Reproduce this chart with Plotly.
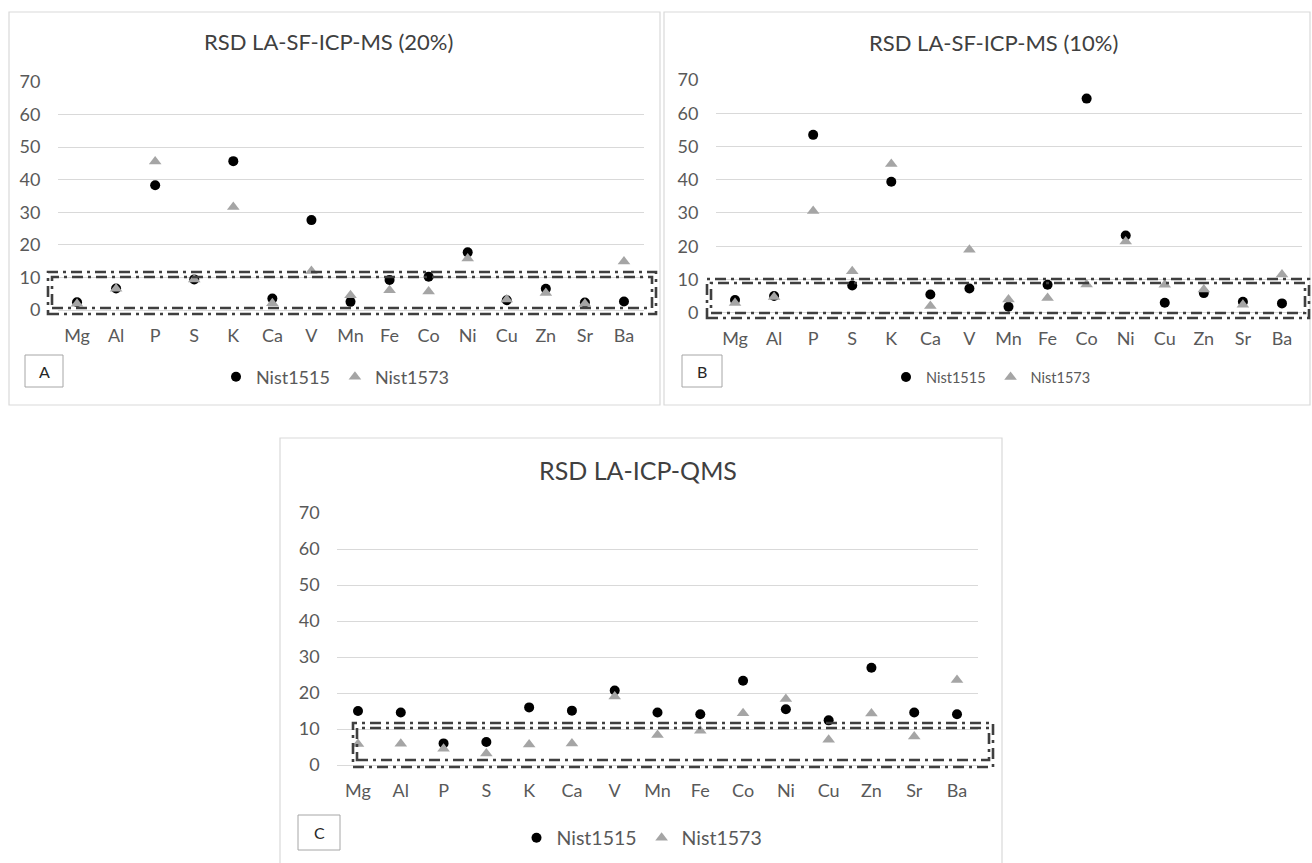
import plotly.graph_objects as go

# ---------------- data ----------------
categories = ["Mg", "Al", "P", "S", "K", "Ca", "V", "Mn", "Fe", "Co", "Ni", "Cu", "Zn", "Sr", "Ba"]
series_names = ["Nist1515", "Nist1573"]
y_ticks = [0, 10, 20, 30, 40, 50, 60, 70]

a_nist1515 = [2.4, 6.6, 38.3, 9.4, 45.7, 3.5, 27.6, 2.5, 9.2, 10.2, 17.7, 3.0, 6.5, 2.3, 2.6]
a_nist1573 = [1.9, 6.5, 45.6, 9.4, 31.6, 2.1, 12.0, 4.5, 6.1, 5.7, 15.8, 3.2, 5.2, 1.9, 14.9]

b_nist1515 = [3.8, 5.0, 53.5, 8.2, 39.4, 5.5, 7.3, 1.8, 8.4, 64.4, 23.2, 3.0, 5.9, 3.3, 2.8]
b_nist1573 = [2.9, 4.7, 30.6, 12.5, 44.7, 2.0, 18.9, 4.0, 4.4, 8.5, 21.4, 8.4, 7.0, 2.4, 11.5]

c_nist1515 = [15.0, 14.6, 6.0, 6.4, 16.0, 15.1, 20.7, 14.6, 14.1, 23.4, 15.5, 12.4, 27.0, 14.6, 14.1]
c_nist1573 = [5.8, 5.9, 4.5, 3.2, 5.7, 6.0, 19.0, 8.3, 9.5, 14.4, 18.3, 7.0, 14.3, 7.9, 23.6]

panel_titles = ["RSD LA-SF-ICP-MS (20%)", "RSD LA-SF-ICP-MS (10%)", "RSD LA-ICP-QMS"]
panel_letters = ["A", "B", "C"]

# ---------------- layout helpers ----------------
W, H = 1312, 863
FONT = "Lato, Calibri, 'Noto Sans', sans-serif"


def fx(x):
    return x / W


def fy(y):
    return 1 - y / H


# pixel geometry of each panel (screen coordinates)
panels = [
    dict(data=(a_nist1515, a_nist1573), plot_x=(57.5, 643.5), y0=310, y70=82,
         border=(9, 12, 660, 405), title_xy=(328, 41), title_size=22,
         legend_xy=(335, 377), legend_size=18, letter_box=(25, 355, 63, 387),
         box_outer=(48, 272, 656, 314), box_inner=(52, 277, 652, 308)),
    dict(data=(b_nist1515, b_nist1573), plot_x=(715.5, 1301.5), y0=312.7, y70=80,
         border=(664, 12, 1310, 405), title_xy=(993, 42), title_size=22,
         legend_xy=(991, 377), legend_size=14.5, letter_box=(682, 355, 722, 387),
         box_outer=(707, 279, 1309, 318), box_inner=(711, 283, 1305, 313)),
    dict(data=(c_nist1515, c_nist1573), plot_x=(336.6, 978.4), y0=765, y70=513,
         border=(280, 438, 1002, 875), title_xy=(638, 470), title_size=25,
         legend_xy=(642, 838), legend_size=19.5, letter_box=(298, 815, 340, 850),
         box_outer=(353, 723, 993, 767), box_inner=(357, 728, 989, 760)),
]

fig = go.Figure()
shapes = []
annotations = []
layout_axes = {}

for i, p in enumerate(panels):
    n = i + 1
    xa = "x" if n == 1 else f"x{n}"
    ya = "y" if n == 1 else f"y{n}"
    leg = "legend" if n == 1 else f"legend{n}"
    d1515, d1573 = p["data"]

    fig.add_trace(go.Scatter(
        x=categories, y=d1515, mode="markers", name=series_names[0],
        marker=dict(symbol="circle", size=10, color="#000000"),
        xaxis=xa, yaxis=ya, legend=leg, showlegend=True))
    fig.add_trace(go.Scatter(
        x=categories, y=d1573, mode="markers", name=series_names[1],
        marker=dict(symbol="triangle-up", size=11, color="#a5a5a5"),
        xaxis=xa, yaxis=ya, legend=leg, showlegend=True))

    xk = "xaxis" if n == 1 else f"xaxis{n}"
    yk = "yaxis" if n == 1 else f"yaxis{n}"
    layout_axes[xk] = dict(
        domain=[fx(p["plot_x"][0]), fx(p["plot_x"][1])],
        anchor=ya, type="category", categoryorder="array", categoryarray=categories,
        range=[-0.5, 14.5], showgrid=False, zeroline=False, showline=False,
        ticks="", ticklabelstandoff=13, automargin=False,
        tickfont=dict(family=FONT, size=18, color="#595959"), fixedrange=True)
    layout_axes[yk] = dict(
        domain=[fy(p["y0"]), fy(p["y70"])], anchor=xa, range=[0, 70],
        tickvals=y_ticks, showgrid=True, gridcolor="#d9d9d9", gridwidth=1,
        zeroline=True, zerolinecolor="#d9d9d9", zerolinewidth=1, showline=False,
        ticks="", ticklabelstandoff=16, automargin=False,
        tickfont=dict(family=FONT, size=18, color="#595959"), fixedrange=True)

    lx, ly = p["legend_xy"]
    layout_axes[leg] = dict(
        x=fx(lx), y=fy(ly), xanchor="center", yanchor="middle",
        orientation="h", bgcolor="rgba(0,0,0,0)", itemwidth=30,
        font=dict(family=FONT, size=p["legend_size"], color="#595959"))

    # panel border
    bx0, by0, bx1, by1 = p["border"]
    shapes.append(dict(type="rect", xref="paper", yref="paper",
                       x0=fx(bx0), x1=fx(bx1), y0=fy(by1), y1=fy(by0),
                       line=dict(color="#d9d9d9", width=1.2), layer="below"))
    # letter box
    lb = p["letter_box"]
    shapes.append(dict(type="rect", xref="paper", yref="paper",
                       x0=fx(lb[0]), x1=fx(lb[2]), y0=fy(lb[3]), y1=fy(lb[1]),
                       line=dict(color="#a6a6a6", width=1), layer="below"))
    annotations.append(dict(text=panel_letters[i], xref="paper", yref="paper",
                            x=fx((lb[0] + lb[2]) / 2), y=fy((lb[1] + lb[3]) / 2),
                            xanchor="center", yanchor="middle", showarrow=False,
                            font=dict(family=FONT, size=16, color="#262626")))
    # dash-dot highlight boxes around the 0-10 band
    for key in ("box_outer", "box_inner"):
        r = p[key]
        shapes.append(dict(type="rect", xref="paper", yref="paper",
                           x0=fx(r[0]), x1=fx(r[2]), y0=fy(r[3]), y1=fy(r[1]),
                           line=dict(color="#3f3f3f", width=2.6, dash="11px,5px,3px,5px"),
                           layer="above"))
    # title
    tx, ty = p["title_xy"]
    annotations.append(dict(text=panel_titles[i], xref="paper", yref="paper",
                            x=fx(tx), y=fy(ty), xanchor="center", yanchor="middle",
                            showarrow=False,
                            font=dict(family=FONT, size=p["title_size"], color="#404040")))

fig.update_layout(
    width=W, height=H, autosize=False,
    margin=dict(l=0, r=0, t=0, b=0, pad=0, autoexpand=False),
    paper_bgcolor="white", plot_bgcolor="white",
    shapes=shapes, annotations=annotations, **layout_axes)

# pin the figure to the page's top-left corner (no body margin, no scrolling)
pin_js = (
    "document.documentElement.style.margin='0';"
    "document.body.style.margin='0';"
    "document.body.style.overflow='hidden';"
    "var gd=document.getElementById('{plot_id}');"
    "gd.style.position='fixed';gd.style.left='0px';gd.style.top='0px';"
)

fig.write_html("out.html", config={"displayModeBar": False}, post_script=pin_js)
